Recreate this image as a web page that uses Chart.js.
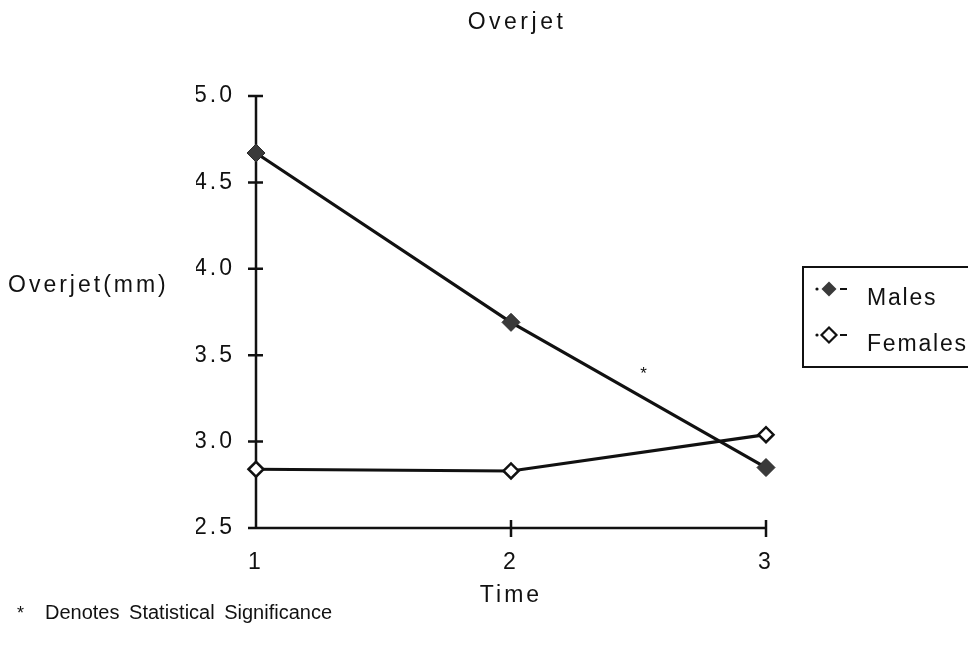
<!DOCTYPE html>
<html>
<head>
<meta charset="utf-8">
<script src="https://cdn.jsdelivr.net/npm/chart.js@4.4.1/dist/chart.umd.min.js"></script>
<style>
  body { margin: 0; background: #fff; }
  canvas { display: block; }
</style>
</head>
<body>
<canvas id="overjet" width="968" height="651"></canvas>
<script>
// values (mm)
const timePoints = [1, 2, 3];
const males = [4.67, 3.69, 2.85];
const females = [2.84, 2.83, 3.04];
const yTicks = [2.5, 3.0, 3.5, 4.0, 4.5, 5.0];
const seriesNames = ['Males', 'Females'];

const FONT = "'Liberation Sans', Arial, sans-serif";
const INK = '#111';

const toPoints = vals => vals.map((v, i) => ({ x: timePoints[i], y: v }));

// axes with ticks crossing the line, plus the free text and the boxed legend
const paperBits = {
    id: 'paperBits',
    beforeLayout(chart) { chart.ctx.letterSpacing = '3px'; },
    beforeDraw(chart) {
        const ctx = chart.ctx;
        ctx.save();
        ctx.fillStyle = '#fff';
        ctx.fillRect(0, 0, chart.width, chart.height);
        ctx.restore();
        ctx.letterSpacing = '3px';
    },
    beforeDatasetsDraw(chart) {
        const { ctx, chartArea: a, scales: { x, y } } = chart;
        ctx.save();
        ctx.strokeStyle = INK;
        ctx.lineWidth = 2.5;
        ctx.beginPath();
        ctx.moveTo(a.left, a.top);
        ctx.lineTo(a.left, a.bottom);
        ctx.lineTo(a.right, a.bottom);
        yTicks.forEach(v => {
            const py = y.getPixelForValue(v);
            ctx.moveTo(a.left - 8, py);
            ctx.lineTo(a.left + 7, py);
        });
        timePoints.slice(1).forEach(t => {
            const px = x.getPixelForValue(t);
            ctx.moveTo(px, a.bottom - 8);
            ctx.lineTo(px, a.bottom + 9);
        });
        ctx.stroke();
        ctx.restore();
    },
    afterDraw(chart) {
        const { ctx, scales: { x, y } } = chart;
        ctx.save();
        ctx.fillStyle = INK;
        ctx.textBaseline = 'alphabetic';

        // title
        ctx.font = '23px ' + FONT;
        ctx.letterSpacing = '3.5px';
        ctx.textAlign = 'center';
        ctx.fillText('Overjet', 517, 29);

        // y title, horizontal
        ctx.letterSpacing = '3px';
        ctx.textAlign = 'left';
        ctx.fillText('Overjet(mm)', 8, 292);

        // significance mark between time 2 and 3
        ctx.font = '17px ' + FONT;
        ctx.letterSpacing = '0px';
        ctx.textAlign = 'center';
        ctx.fillText('*', x.getPixelForValue(2.52), y.getPixelForValue(3.36));

        // footnote
        ctx.textAlign = 'left';
        ctx.font = '18px ' + FONT;
        ctx.fillText('*', 17, 619);
        ctx.font = '20px ' + FONT;
        ctx.wordSpacing = '4px';
        ctx.fillText('Denotes Statistical Significance', 45, 619);
        ctx.wordSpacing = '0px';

        // legend box
        ctx.strokeStyle = INK;
        ctx.lineWidth = 2;
        ctx.strokeRect(803, 267, 200, 100);
        ctx.font = '23px ' + FONT;
        ctx.letterSpacing = '1.8px';
        seriesNames.forEach((name, i) => {
            const cy = 289 + i * 46;
            ctx.beginPath();
            ctx.arc(817, cy, 1.6, 0, Math.PI * 2);
            ctx.fill();
            ctx.beginPath();
            ctx.moveTo(829, cy - 7.5);
            ctx.lineTo(836.5, cy);
            ctx.lineTo(829, cy + 7.5);
            ctx.lineTo(821.5, cy);
            ctx.closePath();
            if (i === 0) {
                ctx.fillStyle = '#3a3a3a';
                ctx.fill();
                ctx.fillStyle = INK;
            } else {
                ctx.lineWidth = 2.2;
                ctx.stroke();
            }
            ctx.lineWidth = 2;
            ctx.beginPath();
            ctx.moveTo(840, cy);
            ctx.lineTo(847, cy);
            ctx.stroke();
            ctx.fillText(name, 867, cy + 16);
        });
        ctx.restore();
    }
};

new Chart(document.getElementById('overjet'), {
    type: 'line',
    data: {
        datasets: [
            {
                label: seriesNames[0],
                data: toPoints(males),
                borderColor: INK,
                borderWidth: 3.2,
                pointStyle: 'rectRot',
                pointRadius: 9,
                pointBackgroundColor: '#3a3a3a',
                pointBorderColor: '#2a2a2a',
                pointBorderWidth: 1,
                clip: false
            },
            {
                label: seriesNames[1],
                data: toPoints(females),
                borderColor: INK,
                borderWidth: 3.2,
                pointStyle: 'rectRot',
                pointRadius: 7.5,
                pointBackgroundColor: '#fff',
                pointBorderColor: INK,
                pointBorderWidth: 2.5,
                clip: false
            }
        ]
    },
    options: {
        responsive: false,
        animation: false,
        layout: { padding: { left: 196, right: 202, top: 96, bottom: 28 } },
        plugins: {
            legend: { display: false },
            title: { display: false },
            tooltip: { enabled: false }
        },
        scales: {
            x: {
                type: 'linear',
                min: 1,
                max: 3,
                afterFit: s => { s.height = 95; },
                grid: { display: false, drawTicks: false },
                border: { display: false },
                ticks: {
                    stepSize: 1,
                    padding: 21,
                    color: INK,
                    font: { family: FONT, size: 23 }
                },
                title: {
                    display: true,
                    text: 'Time',
                    color: INK,
                    padding: { top: 14, bottom: 14 },
                    font: { family: FONT, size: 23 }
                }
            },
            y: {
                min: 2.5,
                max: 5.0,
                afterFit: s => { s.width = 60; },
                afterBuildTicks: s => { s.ticks = yTicks.map(v => ({ value: v })); },
                grid: { display: false, drawTicks: false },
                border: { display: false },
                ticks: {
                    padding: 21,
                    color: INK,
                    font: { family: FONT, size: 23 },
                    callback: v => v.toFixed(1)
                }
            }
        }
    },
    plugins: [paperBits]
});
</script>
</body>
</html>
